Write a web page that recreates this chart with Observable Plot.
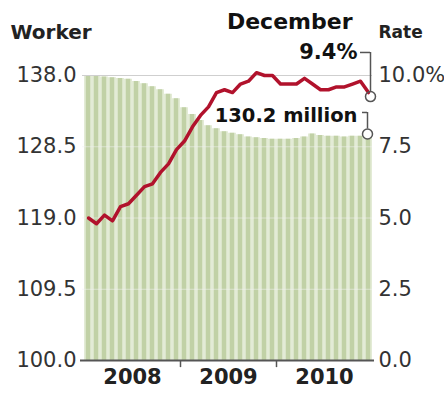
<!DOCTYPE html>
<html><head><meta charset="utf-8">
<script src="https://cdn.jsdelivr.net/npm/d3@7"></script>
<script src="https://cdn.jsdelivr.net/npm/@observablehq/plot@0.6"></script>
<style>html,body{margin:0;padding:0;background:#fff}svg{display:block}</style>
</head><body><div id="chart"></div>
<script>
const months = [
  "2008-01","2008-02","2008-03","2008-04","2008-05","2008-06","2008-07","2008-08","2008-09","2008-10","2008-11","2008-12",
  "2009-01","2009-02","2009-03","2009-04","2009-05","2009-06","2009-07","2009-08","2009-09","2009-10","2009-11","2009-12",
  "2010-01","2010-02","2010-03","2010-04","2010-05","2010-06","2010-07","2010-08","2010-09","2010-10","2010-11","2010-12"
];
// Employed workers, millions (bars, left axis)
const workers = [
  138.0,137.9,137.8,137.7,137.6,137.5,137.2,136.9,136.5,136.1,135.5,134.9,
  133.7,132.8,132.0,131.3,130.9,130.5,130.3,130.1,129.8,129.7,129.6,129.5,
  129.5,129.5,129.6,129.8,130.2,130.0,129.9,129.9,129.8,129.9,129.9,130.2
];
// Unemployment rate, % (line, right axis)
const rate = [
  5.0,4.8,5.1,4.9,5.4,5.5,5.8,6.1,6.2,6.6,6.9,7.4,
  7.7,8.2,8.6,8.9,9.4,9.5,9.4,9.7,9.8,10.1,10.0,10.0,
  9.7,9.7,9.7,9.9,9.7,9.5,9.5,9.6,9.6,9.7,9.8,9.4
];
const leftTicks = [100, 109.5, 119, 128.5, 138];
const leftTickLabels = ["100.0","109.5","119.0","128.5","138.0"];
const rateTicks = [0, 2.5, 5, 7.5, 10];
const rateTickLabels = ["0.0","2.5","5.0","7.5","10.0%"];
const years = ["2008","2009","2010"];
const yearMid = ["2008-07","2009-07","2010-07"];
const yearBreaks = ["2009-01","2010-01"];

// map the rate axis (0–10) onto the worker axis (100–138)
const toY = r => 100 + r * (138 - 100) / 10;

const data = months.map((m, i) => ({month: m, workers: workers[i], rate: rate[i]}));
const last = data[data.length - 1];
const font = "DejaVu Sans";

const chart = Plot.plot({
  width: 444,
  height: 398,
  marginLeft: 84,
  marginRight: 72,
  marginTop: 75,
  marginBottom: 38,
  style: {fontFamily: font, fontSize: "21px", color: "#333", background: "#fff"},
  x: {type: "band", domain: months, padding: 0, axis: null},
  y: {domain: [100, 138]},
  marks: [
    Plot.barY(data, {x: "month", y1: 100, y2: "workers", fill: "#e3ebd6"}),
    Plot.barY(data, {x: "month", y1: 100, y2: "workers", fill: "#c1d1a6", insetLeft: 1.75, insetRight: 1.75}),
    Plot.ruleY(leftTicks.slice(1, 4), {stroke: "#f2f2f2", strokeOpacity: 0.55, insetLeft: -2}),
    Plot.ruleY([138], {stroke: "#cfcfcf", strokeWidth: 1.2, insetLeft: -2}),
    Plot.ruleY([100], {stroke: "#555", strokeWidth: 2, insetLeft: -4, insetRight: -2}),
    Plot.ruleX(yearBreaks, {x: d => d, y1: 100, y2: 99.05, dx: -4, stroke: "#555", strokeWidth: 1.5}),
    Plot.axisY({anchor: "left", ticks: leftTicks, tickSize: 0, tickPadding: 8, label: null,
      tickFormat: d => leftTickLabels[leftTicks.indexOf(d)], fontSize: 21}),
    Plot.axisY({anchor: "right", ticks: rateTicks.map(toY), tickSize: 0, tickPadding: 6, label: null,
      tickFormat: d => rateTickLabels[rateTicks.map(toY).indexOf(d)], fontSize: 21}),
    Plot.text(years, {x: (d, i) => yearMid[i], y: 100, dy: 17, dx: -4, text: d => d,
      fontWeight: "bold", fontSize: 21, fill: "#222", lineAnchor: "middle"}),
    Plot.line(data, {x: "month", y: d => toY(d.rate), stroke: "#b1122c", strokeWidth: 3.5,
      strokeLinejoin: "round", strokeLinecap: "round"}),
    // annotation: unemployment rate
    Plot.tickY([last], {x: "month", y: () => 141.07, stroke: "#555", strokeWidth: 1.5, insetLeft: -4, insetRight: 2}),
    Plot.ruleX([last], {x: "month", y1: () => 141.07, y2: d => toY(d.rate), dx: 2, stroke: "#555", strokeWidth: 1.5}),
    Plot.dot([last], {x: "month", y: d => toY(d.rate), dx: 2, dy: 4, r: 5, stroke: "#555", fill: "none", strokeWidth: 1.5}),
    Plot.text([last], {x: "month", y: () => 141.13, dx: -11, text: d => d.rate.toFixed(1) + "%",
      textAnchor: "end", lineAnchor: "middle", fontWeight: "bold", fontSize: 21, fill: "#111"}),
    // annotation: workers
    Plot.tickY([last], {x: "month", y: () => 133.07, stroke: "#555", strokeWidth: 1.5, insetLeft: -2, insetRight: 5}),
    Plot.ruleX([last], {x: "month", y1: () => 133.07, y2: d => d.workers + 0.67, dx: -1, stroke: "#555", strokeWidth: 1.5}),
    Plot.dot([last], {x: "month", y: "workers", dx: -1, r: 5, stroke: "#555", fill: "#fff", strokeWidth: 1.5}),
    Plot.text([last], {x: "month", y: () => 132.67, dx: -11, text: d => d.workers.toFixed(1) + " million",
      textAnchor: "end", lineAnchor: "middle", fontWeight: "bold", fontSize: 19.5, fill: "#111"}),
    // headers
    Plot.text(["Worker"], {frameAnchor: "top-left", dx: -74, dy: -43, textAnchor: "start", lineAnchor: "middle",
      fontWeight: "bold", fontSize: 20, fill: "#222"}),
    Plot.text(["Rate"], {frameAnchor: "top-right", dx: 6, dy: -43, textAnchor: "start", lineAnchor: "middle",
      fontWeight: "bold", fontSize: 17, fill: "#222"}),
    Plot.text(["December"], {frameAnchor: "top-right", dx: -20, dy: -54, textAnchor: "end", lineAnchor: "middle",
      fontWeight: "bold", fontSize: 22, fill: "#111"})
  ]
});
document.getElementById("chart").appendChild(chart);
</script>
</body></html>
